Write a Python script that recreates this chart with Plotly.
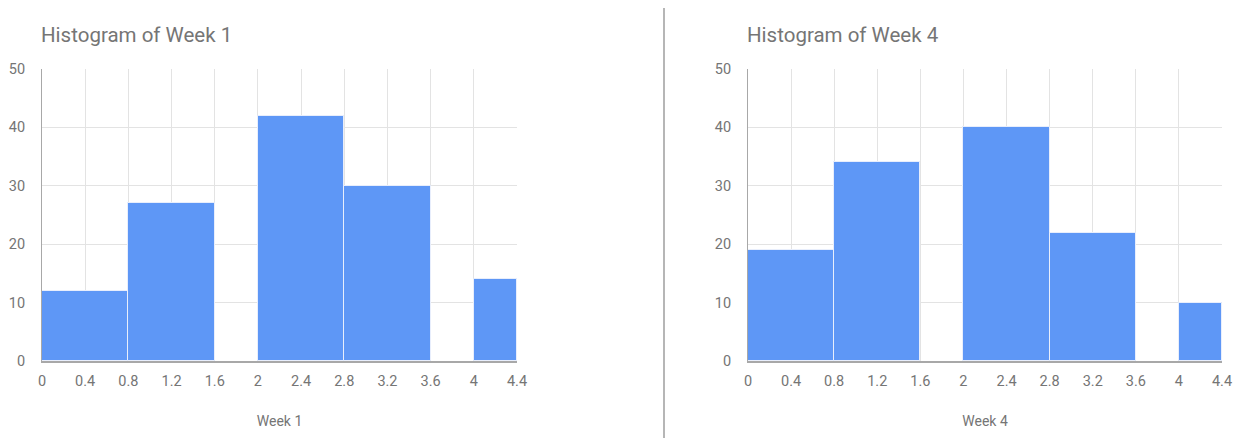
import plotly.graph_objects as go

# ---- data ----
bin_left = [0.0, 0.8, 2.0, 2.8, 4.0]
bin_right = [0.8, 1.6, 2.8, 3.6, 4.4]
week1_counts = [12, 27, 42, 30, 14]
week4_counts = [19, 34, 40, 22, 10]
x_ticks = [0, 0.4, 0.8, 1.2, 1.6, 2.0, 2.4, 2.8, 3.2, 3.6, 4.0, 4.4]
x_tick_labels = ["0", "0.4", "0.8", "1.2", "1.6", "2", "2.4", "2.8", "3.2", "3.6", "4", "4.4"]
y_ticks = [0, 10, 20, 30, 40, 50]
titles = ["Histogram of Week 1", "Histogram of Week 4"]
axis_titles = ["Week 1", "Week 4"]

W, H = 1243, 438
centers = [(l + r) / 2 for l, r in zip(bin_left, bin_right)]
widths = [r - l for l, r in zip(bin_left, bin_right)]

BAR = "#5e97f6"
TXT = "#757575"
GRID = "#e3e3e3"
AXIS = "#a8a8a8"
FONT = "Roboto"

fig = go.Figure()
for i, counts in enumerate([week1_counts, week4_counts]):
    xa = "x" if i == 0 else "x2"
    ya = "y" if i == 0 else "y2"
    fig.add_trace(go.Bar(
        x=centers, y=counts, width=widths, xaxis=xa, yaxis=ya,
        marker=dict(color=BAR, line=dict(color="#e8eefc", width=1)),
        showlegend=False, hoverinfo="x+y",
    ))

y_dom = [1 - 361 / H, 1 - 69 / H]
x_doms = [[42 / W, 517 / W], [748 / W, 1222 / W]]

common_x = dict(
    range=[0, 4.4], tickvals=x_ticks, ticktext=x_tick_labels,
    showgrid=True, gridcolor=GRID, gridwidth=1,
    showline=True, linecolor=AXIS, linewidth=2,
    zeroline=False, ticks="", ticklabelstandoff=6,
    tickfont=dict(family=FONT, size=14.5, color=TXT),
    automargin=False, fixedrange=True,
)
common_y = dict(
    range=[0, 50], tickvals=y_ticks, domain=y_dom,
    showgrid=True, gridcolor=GRID, gridwidth=1,
    showline=True, linecolor=AXIS, linewidth=1,
    zeroline=False, ticks="", ticklabelstandoff=13,
    tickfont=dict(family=FONT, size=14.5, color=TXT),
    automargin=False, fixedrange=True,
)

fig.update_layout(
    width=W, height=H,
    margin=dict(l=0, r=0, t=0, b=0),
    paper_bgcolor="white", plot_bgcolor="white",
    bargap=0,
    font=dict(family=FONT, color=TXT),
    xaxis=dict(common_x, domain=x_doms[0], anchor="y",
               title=dict(text=axis_titles[0], font=dict(family=FONT, size=14, color=TXT), standoff=27)),
    yaxis=dict(common_y, anchor="x"),
    xaxis2=dict(common_x, domain=x_doms[1], anchor="y2",
                title=dict(text=axis_titles[1], font=dict(family=FONT, size=14, color=TXT), standoff=27)),
    yaxis2=dict(common_y, anchor="x2"),
)

for i in range(2):
    fig.add_annotation(
        text=titles[i], xref="paper", yref="paper",
        x=x_doms[i][0] - 3 / W, y=1 - 35 / H, xanchor="left", yanchor="middle",
        showarrow=False, font=dict(family=FONT, size=20.5, color=TXT),
    )

# vertical separator
fig.add_shape(type="line", xref="paper", yref="paper",
              x0=664 / W, x1=664 / W, y0=0, y1=1 - 8 / H,
              line=dict(color="#9e9e9e", width=1.5))

fig.write_html(
    "out.html",
    config={"displayModeBar": False},
    post_script="document.body.style.margin='0';document.body.style.overflow='hidden';",
)
